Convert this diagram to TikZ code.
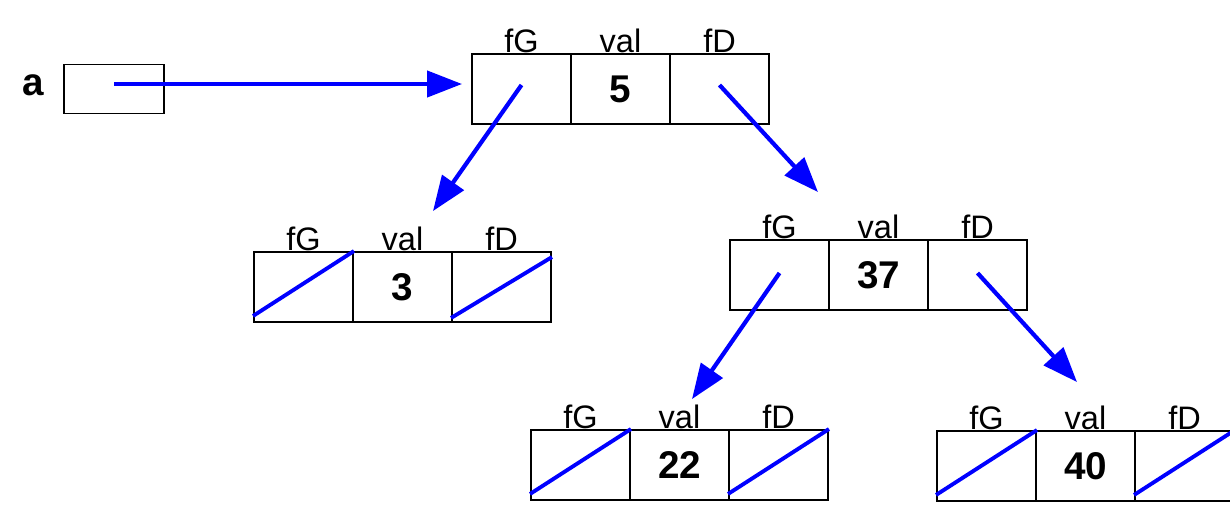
\documentclass[tikz,border=0pt]{standalone}
\usepackage{fontspec}
\setmainfont{Liberation Sans}
\usetikzlibrary{arrows.meta}

\tikzset{
  cell/.style={draw, line width=1.1pt, minimum width=1.98cm, minimum height=1.4cm, inner sep=0pt,
    font=\bfseries\fontsize{22}{22}\selectfont, label distance=0.15cm},
  field/.style={inner sep=0pt, font=\fontsize{18.5}{18.5}\selectfont},
  ptr/.style={draw=blue, line width=2.4pt, -{Triangle[length=0.7cm, width=0.52cm]}},
  nil/.style={draw=blue, line width=2.2pt},
}

\begin{document}
\begin{tikzpicture}[x=0.02cm, y=-0.02cm]
      \useasboundingbox (0,0) rectangle (1230,504);

      % Variable a
      \node[inner sep=0pt, anchor=base, font=\bfseries\fontsize{22}{22}\selectfont] (a-lab) at (33,95) {a};
      \node[draw, line width=1.1pt, minimum width=2cm, minimum height=0.98cm, inner sep=0pt] (a) at (114,89) {};

      % Nodes (fG, val, fD)
      \node[cell, label={[field, name=r-gl]above:fG}] (r-g) at (521.5,89) {};
      \node[cell, label={[field, name=r-vl]above:val}] (r-v) at (620.5,89) {5};
      \node[cell, label={[field, name=r-dl]above:fD}] (r-d) at (719.5,89) {};

      \node[cell, label={[field, name=b-gl]above:fG}] (b-g) at (303.5,287) {};
      \node[cell, label={[field, name=b-vl]above:val}] (b-v) at (402.5,287) {3};
      \node[cell, label={[field, name=b-dl]above:fD}] (b-d) at (501.5,287) {};

      \node[cell, label={[field, name=c-gl]above:fG}] (c-g) at (779.5,275) {};
      \node[cell, label={[field, name=c-vl]above:val}] (c-v) at (878.5,275) {37};
      \node[cell, label={[field, name=c-dl]above:fD}] (c-d) at (977.5,275) {};

      \node[cell, label={[field, name=d-gl]above:fG}] (d-g) at (580.5,465) {};
      \node[cell, label={[field, name=d-vl]above:val}] (d-v) at (679.5,465) {22};
      \node[cell, label={[field, name=d-dl]above:fD}] (d-d) at (778.5,465) {};

      \node[cell, label={[field, name=e-gl]above:fG}] (e-g) at (986.5,466) {};
      \node[cell, label={[field, name=e-vl]above:val}] (e-v) at (1085.5,466) {40};
      \node[cell, label={[field, name=e-dl]above:fD}] (e-d) at (1184.5,466) {};

      % Pointers
      \draw[ptr] ([yshift=0.1cm]a.center) -- ([xshift=-0.18cm, yshift=0.1cm]r-g.west);
      \draw[ptr] ([yshift=0.08cm]r-g.center) -- ([xshift=0.61cm, yshift=0.8cm]b-v.north);
      \draw[ptr] ([yshift=0.08cm]r-d.center) -- ([xshift=0.77cm, yshift=0.94cm]c-g.north);
      \draw[ptr] ([yshift=0.04cm]c-g.center) -- ([xshift=0.25cm, yshift=0.6cm]d-v.north);
      \draw[ptr] ([yshift=0.04cm]c-d.center) -- ([xshift=-0.17cm, yshift=0.96cm]e-v.north);

      % Null links
      \draw[nil] ([yshift=0.14cm]b-g.south west) -- (b-g.north east);
      \draw[nil] ([yshift=0.1cm]b-d.south west) -- ([yshift=-0.12cm]b-d.north east);
      \draw[nil] ([yshift=0.14cm]d-g.south west) -- (d-g.north east);
      \draw[nil] ([yshift=0.14cm]d-d.south west) -- (d-d.north east);
      \draw[nil] ([yshift=0.14cm]e-g.south west) -- (e-g.north east);
      \draw[nil] ([yshift=0.14cm]e-d.south west) -- (e-d.north east);
\end{tikzpicture}
\end{document}
